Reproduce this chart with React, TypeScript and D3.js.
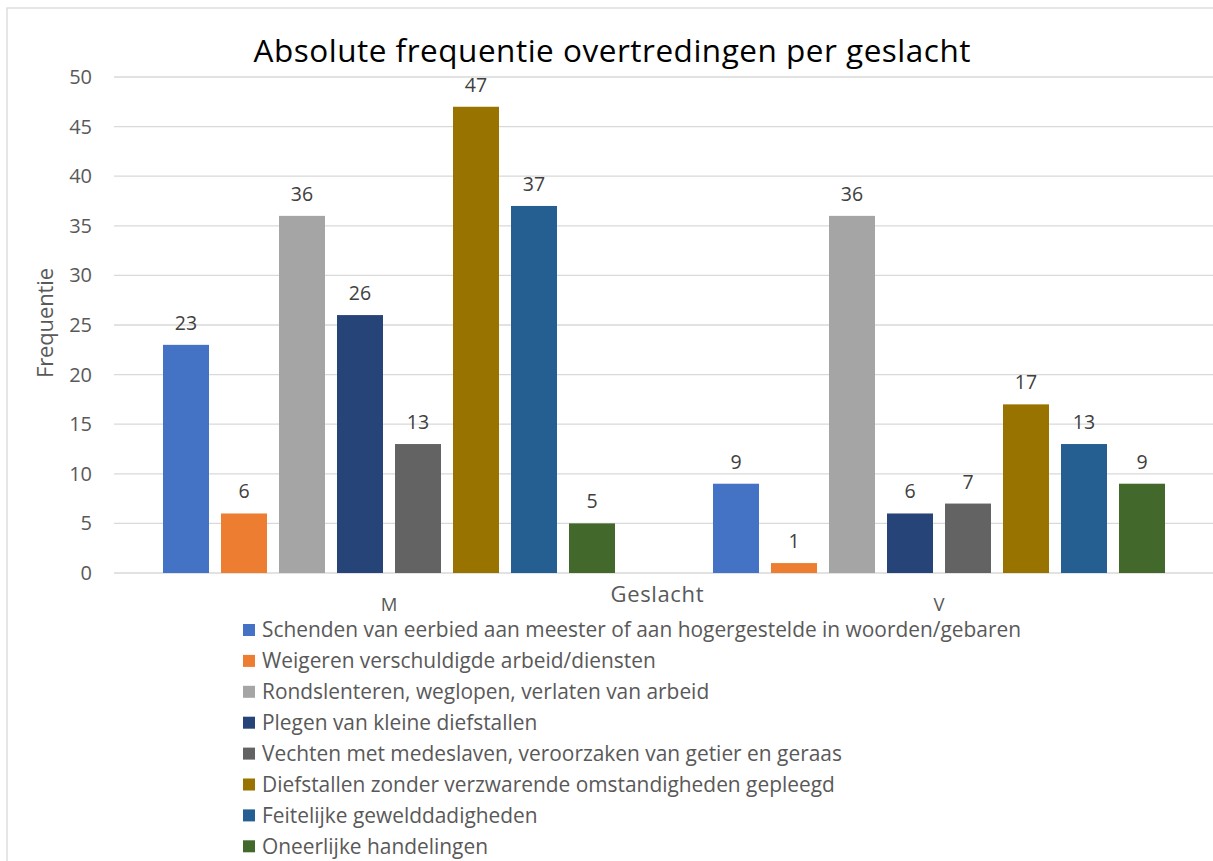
import React from "react";
import * as d3 from "d3";

const categories = ["M", "V"];
const seriesNames = [
  "Schenden van eerbied aan meester of aan hogergestelde in woorden/gebaren",
  "Weigeren verschuldigde arbeid/diensten",
  "Rondslenteren, weglopen, verlaten van arbeid",
  "Plegen van kleine diefstallen",
  "Vechten met medeslaven, veroorzaken van getier en geraas",
  "Diefstallen zonder verzwarende omstandigheden gepleegd",
  "Feitelijke gewelddadigheden",
  "Oneerlijke handelingen",
];
const valuesM = [23, 6, 36, 26, 13, 47, 37, 5];
const valuesV = [9, 1, 36, 6, 7, 17, 13, 9];
const seriesColors = ["#4472C4", "#ED7D31", "#A5A5A5", "#264478", "#636363", "#997300", "#255E91", "#43682B"];
const yTicks = [0, 5, 10, 15, 20, 25, 30, 35, 40, 45, 50];

const W = 1213;
const H = 861;
const FONT = "'Open Sans', 'Noto Sans', sans-serif";

export default function App() {
  const plotLeft = 114;
  const plotRight = 1214;
  const plotTop = 77;
  const plotBottom = 573;
  const x0 = d3.scaleBand<string>().domain(categories).range([plotLeft, plotRight]).paddingInner(0).paddingOuter(0);
  const bandW = x0.bandwidth();
  const groupPad = 49;
  const x1 = d3
    .scaleBand<string>()
    .domain(seriesNames)
    .range([groupPad, bandW - groupPad])
    .paddingInner(12 / 58)
    .paddingOuter(0);
  const y = d3.scaleLinear().domain([0, 50]).range([plotBottom, plotTop]);
  const data = [valuesM, valuesV];

  return (
    <svg width={W} height={H} style={{ position: "absolute", left: 0, top: 0, background: "#fff" }} fontFamily={FONT}>
      <rect x={7} y={8} width={W + 10} height={H + 10} fill="#fff" stroke="#D9D9D9" strokeWidth={1.3} />
      <text x={612} y={62} textAnchor="middle" fontSize={31.5} fill="#000" textLength={717} lengthAdjust="spacing">
        Absolute frequentie overtredingen per geslacht
      </text>
      {yTicks.map((t) => (
        <g key={t}>
          <line x1={plotLeft} x2={plotRight} y1={y(t)} y2={y(t)} stroke="#D9D9D9" strokeWidth={1.3} />
          <text x={92} y={y(t)} dy="0.35em" textAnchor="end" fontSize={20} fill="#595959">
            {t}
          </text>
        </g>
      ))}
      <text
        transform={`translate(53, ${(plotTop + plotBottom) / 2 - 2}) rotate(-90)`}
        textAnchor="middle"
        fontSize={22}
        fill="#595959"
        textLength={110}
        lengthAdjust="spacing"
      >
        Frequentie
      </text>
      {categories.map((c, ci) => (
        <g key={c} transform={`translate(${x0(c)},0)`}>
          {seriesNames.map((s, si) => {
            const v = data[ci][si];
            const bx = x1(s)!;
            return (
              <g key={s}>
                <rect x={bx} y={y(v)} width={x1.bandwidth()} height={plotBottom - y(v)} fill={seriesColors[si]} />
                <text
                  x={bx + x1.bandwidth() / 2}
                  y={y(v) - 15}
                  textAnchor="middle"
                  fontSize={19.5}
                  fill="#404040"
                >
                  {v}
                </text>
              </g>
            );
          })}
          <text x={bandW / 2} y={611} textAnchor="middle" fontSize={18.5} fill="#595959">
            {c}
          </text>
        </g>
      ))}
      <text x={657} y={602} textAnchor="middle" fontSize={22} fill="#595959" textLength={93} lengthAdjust="spacing">
        Geslacht
      </text>
      {seriesNames.map((s, i) => {
        const ly = 630 + i * 30.9;
        return (
          <g key={s}>
            <rect x={243} y={ly - 6} width={12} height={12} fill={seriesColors[i]} />
            <text x={262} y={ly} dy="0.35em" fontSize={20.9} fill="#595959">
              {s}
            </text>
          </g>
        );
      })}
    </svg>
  );
}
